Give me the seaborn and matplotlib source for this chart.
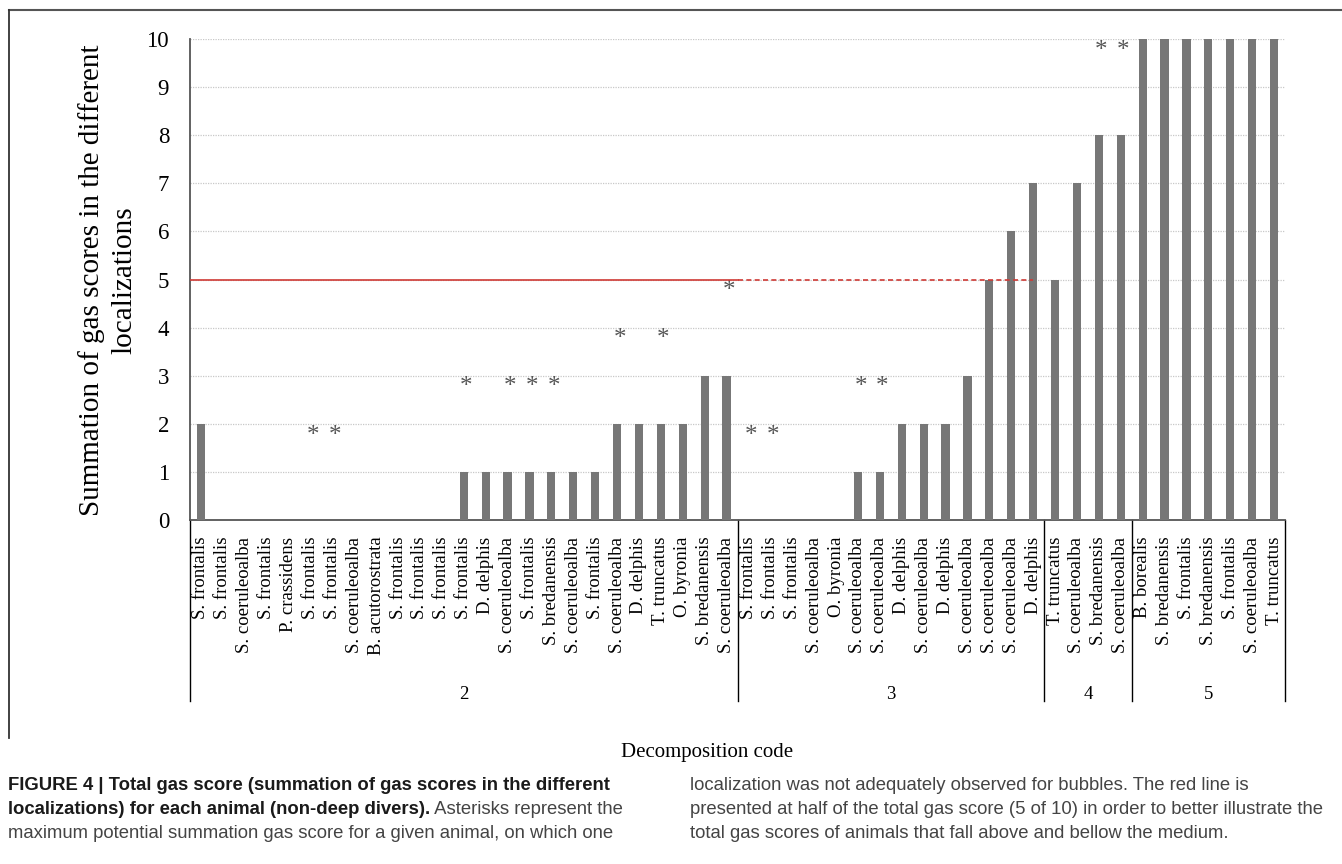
import numpy as np
import pandas as pd
import seaborn as sns
import matplotlib.pyplot as plt
from matplotlib.lines import Line2D
import matplotlib.transforms as mtransforms

# Daten: Tierarten je Zersetzungscode
names_2 = ["S. frontalis", "S. frontalis", "S. coeruleoalba", "S. frontalis", "P. crassidens",
           "S. frontalis", "S. frontalis", "S. coeruleoalba", "B. acutorostrata", "S. frontalis",
           "S. frontalis", "S. frontalis", "S. frontalis", "D. delphis", "S. coeruleoalba",
           "S. frontalis", "S. bredanensis", "S. coeruleoalba", "S. frontalis", "S. coeruleoalba",
           "D. delphis", "T. truncatus", "O. byronia", "S. bredanensis", "S. coeruleoalba"]
scores_2 = [2, 0, 0, 0, 0, 0, 0, 0, 0, 0, 0, 0, 1, 1, 1, 1, 1, 1, 1, 2, 2, 2, 2, 3, 3]

names_3 = ["S. frontalis", "S. frontalis", "S. frontalis", "S. coeruleoalba", "O. byronia",
           "S. coeruleoalba", "S. coeruleoalba", "D. delphis", "S. coeruleoalba", "D. delphis",
           "S. coeruleoalba", "S. coeruleoalba", "S. coeruleoalba", "D. delphis"]
scores_3 = [0, 0, 0, 0, 0, 1, 1, 2, 2, 2, 3, 5, 6, 7]

names_4 = ["T. truncatus", "S. coeruleoalba", "S. bredanensis", "S. coeruleoalba"]
scores_4 = [5, 7, 8, 8]

names_5 = ["B. borealis", "S. bredanensis", "S. frontalis", "S. bredanensis",
           "S. frontalis", "S. coeruleoalba", "T. truncatus"]
scores_5 = [10, 10, 10, 10, 10, 10, 10]

group_codes = ["2", "3", "4", "5"]

# Asterisken (Position in der Gesamtliste)
star_idx = [5, 6, 12, 14, 15, 16, 19, 21, 24, 25, 26, 30, 31, 41, 42]

half_score = 5

names = names_2 + names_3 + names_4 + names_5
scores = scores_2 + scores_3 + scores_4 + scores_5
group_sizes = [len(names_2), len(names_3), len(names_4), len(names_5)]

df = pd.DataFrame({"idx": np.arange(len(names)), "name": names, "score": scores})

serif = "Liberation Serif"
W, H = 1342, 864
fig = plt.figure(figsize=(W / 100, H / 100), dpi=100)
ax = fig.add_axes([190 / W, 1 - 520 / H, (1285 - 190) / W, (520 - 39) / H])

sns.barplot(data=df, x="idx", y="score", color="#777777", saturation=1,
            width=0.37, ax=ax, zorder=3)

ax.set_xlim(-0.5, len(names) - 0.5)
ax.set_ylim(0, 10)
ax.set_yticks(range(0, 11))
ax.set_yticklabels([str(v) for v in range(0, 11)], fontfamily=serif, fontsize=16.5)
ax.set_xticks(df["idx"])
ax.set_xticklabels(names, rotation=90, fontfamily=serif, fontsize=13.5)
ax.tick_params(axis="both", length=0)
ax.tick_params(axis="y", pad=15)
ax.tick_params(axis="x", pad=12)
ax.set_xlabel("")
ax.set_ylabel("")

# Gitter
for v in range(1, 11):
    ax.axhline(v, color="#c8c8c8", lw=0.9, ls=(0, (1, 1)), zorder=1)

for s in ["top", "right"]:
    ax.spines[s].set_visible(False)
ax.spines["left"].set_color("#555555")
ax.spines["left"].set_linewidth(1.3)
ax.spines["bottom"].set_color("#555555")
ax.spines["bottom"].set_linewidth(1.3)

# Rote Linie bei halber Punktzahl
b1 = len(names_2) - 0.5
ax.plot([-0.5, b1], [half_score, half_score], color="#cf3a35", lw=1.2, zorder=4)
ax.plot([b1, len(names_2) + len(names_3) - 1], [half_score, half_score],
        color="#cf3a35", lw=1.2, ls=(0, (3, 2)), zorder=4)

# Asterisken
for i in star_idx:
    ax.text(i + 0.12, scores[i] + 1.63, "*", ha="center", va="baseline",
            fontfamily=serif, fontsize=18, color="#555555")

# Gruppen-Trennlinien und Codes
trans = mtransforms.blended_transform_factory(ax.transData, ax.transAxes)
bounds = np.concatenate([[0], np.cumsum(group_sizes)]) - 0.5
for b in bounds:
    ax.plot([b, b], [0, -0.376], color="black", lw=1.0, transform=trans, clip_on=False)
for k, code in enumerate(group_codes):
    mid = (bounds[k] + bounds[k + 1]) / 2
    ax.text(mid, -0.362, code, transform=trans, ha="center", va="center",
            fontfamily=serif, fontsize=13.5)

fig.text(707 / W, 1 - 753 / H, "Decomposition code", ha="center", va="center",
         fontfamily=serif, fontsize=15)
fig.text(108 / W, 1 - 280 / H, "Summation of gas scores in the different\nlocalizations",
         rotation=90, ha="center", va="center", multialignment="center",
         fontfamily=serif, fontsize=21, linespacing=1.3)

# Rahmen
fig.add_artist(Line2D([9 / W, 1], [1 - 10 / H, 1 - 10 / H], color="#555555", lw=1.5))
fig.add_artist(Line2D([9 / W, 9 / W], [1 - 10 / H, 1 - 738 / H], color="#333333", lw=1.3))

# Bildunterschrift
cap = "Liberation Sans"
cs = 13.3
y1, y2, y3 = 1 - 786 / H, 1 - 810 / H, 1 - 834 / H
fig.text(8 / W, y1, "FIGURE 4 | Total gas score (summation of gas scores in the different",
         fontfamily=cap, fontsize=cs, fontweight="bold", va="center", color="#1a1a1a")
t_bold = fig.text(8 / W, y2, "localizations) for each animal (non-deep divers).",
                  fontfamily=cap, fontsize=cs, fontweight="bold", va="center", color="#1a1a1a")
fig.canvas.draw()
bb = t_bold.get_window_extent()
fig.text(bb.x1 / W, y2, " Asterisks represent the", fontfamily=cap, fontsize=cs,
         va="center", color="#444444")
fig.text(8 / W, y3, "maximum potential summation gas score for a given animal, on which one",
         fontfamily=cap, fontsize=cs, va="center", color="#444444")
fig.text(690 / W, y1, "localization was not adequately observed for bubbles. The red line is",
         fontfamily=cap, fontsize=cs, va="center", color="#444444")
fig.text(690 / W, y2, "presented at half of the total gas score (5 of 10) in order to better illustrate the",
         fontfamily=cap, fontsize=cs, va="center", color="#444444")
fig.text(690 / W, y3, "total gas scores of animals that fall above and bellow the medium.",
         fontfamily=cap, fontsize=cs, va="center", color="#444444")

fig.savefig("out.png", dpi=100)
